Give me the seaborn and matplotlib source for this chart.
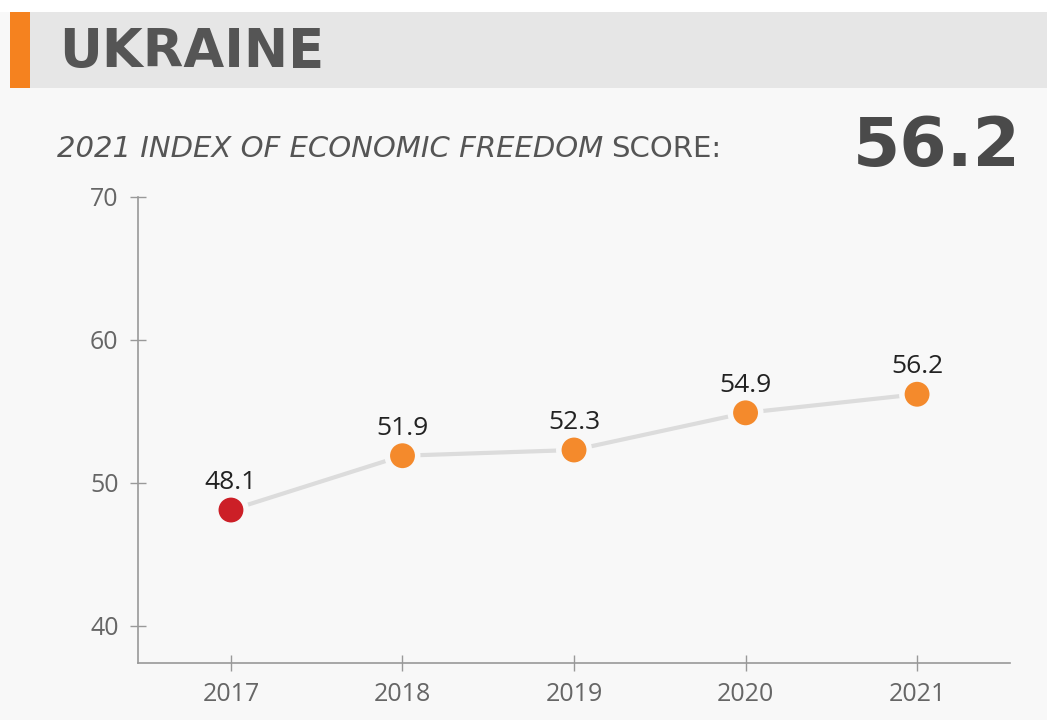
import pandas as pd
import matplotlib.pyplot as plt
import seaborn as sns
from matplotlib.patches import Rectangle

years = [2017, 2018, 2019, 2020, 2021]
scores = [48.1, 51.9, 52.3, 54.9, 56.2]
point_colors = ["#cc1f27", "#f48a2c", "#f48a2c", "#f48a2c", "#f48a2c"]
y_ticks = [40, 50, 60, 70]

country = "UKRAINE"
headline_score = "56.2"

df = pd.DataFrame({"year": years, "score": scores, "color": point_colors})

BG = "#f8f8f8"
sns.set_theme(style="ticks", rc={"axes.facecolor": BG, "figure.facecolor": BG})
plt.rcParams["font.family"] = ["Open Sans", "DejaVu Sans"]

fig = plt.figure(figsize=(10.47, 7.2), dpi=100)
ax = fig.add_axes([0.1318, 0.0792, 0.8329, 0.6472])

# header band
fig.patches.append(Rectangle((0, 0.9833), 1, 0.0167, transform=fig.transFigure,
                             facecolor="white", edgecolor="none", zorder=0))
fig.patches.append(Rectangle((0.0287, 0.8778), 0.9713, 0.1055, transform=fig.transFigure,
                             facecolor="#e6e6e6", edgecolor="none", zorder=0))
fig.patches.append(Rectangle((0.0096, 0.8778), 0.0191, 0.1055, transform=fig.transFigure,
                             facecolor="#f5821f", edgecolor="none", zorder=0))
fig.text(0.056, 0.928, country, fontsize=38, fontweight="bold", color="#555555",
         va="center", ha="left", family="DejaVu Sans")

# subtitle: italic part, then regular "SCORE:" right after it
sub = fig.text(0.054, 0.793, "2021 INDEX OF ECONOMIC FREEDOM", fontsize=21,
               fontstyle="italic", color="#555555", va="center", ha="left",
               family="DejaVu Sans")
fig.canvas.draw()
bb = sub.get_window_extent().transformed(fig.transFigure.inverted())
fig.text(bb.x1 + 0.008, 0.793, "SCORE:", fontsize=21, color="#555555",
         va="center", ha="left", family="DejaVu Sans")
fig.text(0.975, 0.796, headline_score, fontsize=49, fontweight="bold", color="#4a4a4a",
         va="center", ha="right", family="DejaVu Sans")

sns.lineplot(data=df, x="year", y="score", color="#dcdcdc", linewidth=3, ax=ax, zorder=2)
sns.scatterplot(data=df, x="year", y="score", hue="color", palette={c: c for c in point_colors},
                s=480, edgecolor=BG, linewidth=4, legend=False, ax=ax, zorder=3)

for yr, sc in zip(years, scores):
    ax.annotate(f"{sc}", (yr, sc), xytext=(0, 15), textcoords="offset points",
                ha="center", va="baseline", fontsize=19, color="#222222")

ax.set_xlim(2016.458, 2021.542)
ax.set_ylim(37.4, 70)
ax.set_xticks(years)
ax.set_xticklabels([str(y) for y in years])
ax.set_yticks(y_ticks)
ax.set_xlabel("")
ax.set_ylabel("")
ax.spines["top"].set_visible(False)
ax.spines["right"].set_visible(False)
for s in ["left", "bottom"]:
    ax.spines[s].set_color("#999999")
    ax.spines[s].set_linewidth(1.2)
ax.spines["left"].set_bounds(37.4, 70)
ax.tick_params(axis="both", direction="inout", length=12, width=1, color="#999999",
               labelsize=18, labelcolor="#666666", pad=8)

fig.savefig("out.png", dpi=100, facecolor=BG)
